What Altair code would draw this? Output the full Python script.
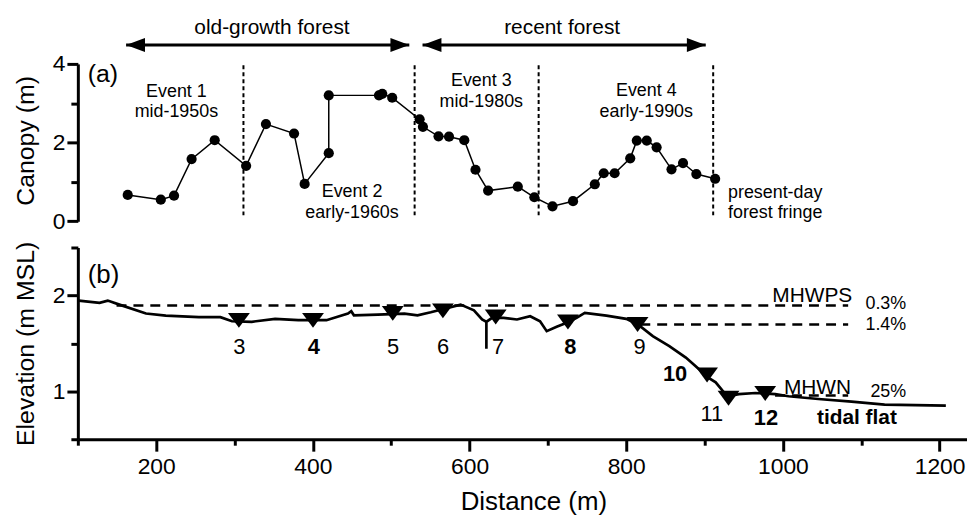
import altair as alt
import pandas as pd

FONT = "Liberation Sans"
XDOM = [100, 1235]
W = 895
H_TOP = 158.4
H_BOT = 193

# ---------------- panel (a): canopy ----------------
canopy_dist = [163.7, 205.9, 222.8, 245.2, 274.7, 314.8, 340.1, 376.0, 389.5, 420.3,
               420.3, 484.4, 488.6, 501.3, 536.3, 540.5, 560.4, 573.8, 593.3, 607.6,
               623.7, 661.6, 682.7, 705.9, 732.1, 759.9, 771.3, 785.2, 805.1, 813.5,
               826.2, 838.8, 857.8, 872.5, 889.5, 913.5]
canopy_height = [0.67, 0.55, 0.65, 1.58, 2.06, 1.41, 2.47, 2.23, 0.95, 1.73,
                 3.20, 3.20, 3.24, 3.14, 2.59, 2.40, 2.16, 2.15, 2.06, 1.31,
                 0.78, 0.88, 0.61, 0.38, 0.51, 0.94, 1.22, 1.22, 1.60, 2.05,
                 2.05, 1.88, 1.32, 1.48, 1.20, 1.08]

event_bounds = [311.4, 529.9, 688.2, 911.0]
event_text = ["Event 1", "mid-1950s", "Event 2", "early-1960s",
              "Event 3", "mid-1980s", "Event 4", "early-1990s"]
event_x = [225.8, 225.8, 450.0, 450.0, 615.0, 615.0, 825.6, 825.6]
event_y = [3.17, 2.65, 0.62, 0.086, 3.45, 2.90, 3.18, 2.65]

fringe_text = ["present-day", "forest fringe"]
fringe_x = [929.9, 929.9]
fringe_y = [0.59, 0.086]

period_text = ["old-growth forest", "recent forest"]
period_x = [347.8, 718.2]
period_y = [4.76, 4.76]
arrow_start = [161.6, 540.0]
arrow_end = [523.1, 901.5]
arrow_y = 4.48

# ---------------- panel (b): elevation ----------------
profile_dist = [101, 127.7, 138.2, 153, 187, 212.3, 254.5, 282, 296.8, 322,
                351.8, 381.4, 417.3, 444.8, 449, 452.4, 482.9, 516.8, 533.6, 550.5,
                588.6, 605.6, 616, 621.5, 621.5, 621.5, 628.8, 643.6, 660.5, 677.4,
                690, 698.5, 711.2, 725.6, 736.6, 747.1, 774.7, 800, 814.5, 833.9,
                855, 876.1, 893, 903.2, 914.2, 924.7, 930.6, 943.8, 965, 990.3,
                1007.2, 1045.2, 1087.6, 1129.8, 1208]
profile_elev = [1.946, 1.922, 1.946, 1.904, 1.811, 1.790, 1.773, 1.773, 1.731, 1.725,
                1.756, 1.742, 1.742, 1.811, 1.835, 1.793, 1.800, 1.811, 1.793, 1.824,
                1.904, 1.845, 1.749, 1.725, 1.445, 1.725, 1.766, 1.766, 1.749, 1.783,
                1.731, 1.627, 1.673, 1.720, 1.766, 1.818, 1.790, 1.756, 1.700, 1.576,
                1.472, 1.352, 1.231, 1.150, 1.093, 0.989, 0.950, 0.971, 0.982, 0.971,
                0.948, 0.920, 0.892, 0.861, 0.850]

tri_dist = [305.6, 400.2, 502.0, 566.0, 633.4, 725.6, 814.5, 903.2, 930.6, 977.4]
tri_elev = [1.740, 1.740, 1.813, 1.839, 1.775, 1.723, 1.697, 1.170, 0.928, 0.977]

lab_text = ["3", "4", "5", "6", "7", "8", "9", "10", "11", "12"]
lab_dist = [306.2, 401.3, 502.3, 566.2, 636.4, 728.6, 816.9, 862.4, 909.3, 978.3]
lab_elev = [1.386, 1.386, 1.386, 1.386, 1.386, 1.386, 1.386, 1.109, 0.695, 0.650]
lab_bold = [False, True, False, False, False, True, False, True, False, True]

level_y = [1.895, 1.697, 0.955]
level_x1 = [149.4, 818.0, 990.0]
level_x2 = [1083.3, 1083.3, 1083.3]

level_name = ["MHWPS", "MHWN"]
level_name_x = [1037.5, 1044.2]
level_name_y = [1.928, 0.971]

pct_text = ["0.3%", "1.4%", "25%"]
pct_x = [1157.4, 1157.4, 1157.4]
pct_y = [1.860, 1.638, 0.937]

# tick values
x_ticks = [100, 200, 300, 400, 500, 600, 700, 800, 900, 1000, 1100, 1200]
top_ticks = [0, 1, 2, 3, 4]
bot_ticks = [0.5, 1, 1.5, 2, 2.5]

# ---------------- encodings ----------------
xscale = alt.Scale(domain=XDOM, nice=False, zero=False)

def x_top():
    return alt.X("x:Q", scale=xscale, axis=None)

x_axis = alt.Axis(
    values=x_ticks, format="d",
    labelExpr="datum.value % 200 == 0 ? datum.label : ''",
    tickSize={"condition": {"test": "datum.value % 200 == 0", "value": 12}, "value": 6},
    tickWidth=3, domainWidth=3, domainColor="black", tickColor="black",
    labelFont=FONT, labelFontSize=23, labelColor="black", labelPadding=4,
    labelFlush=False, labelOverlap=False, grid=False,
    titleFont=FONT, titleFontSize=26, titleFontWeight="normal", titleColor="black",
    titleX=458.5, titleY=71, titleBaseline="alphabetic", titleAlign="center",
)

def x_bot():
    return alt.X("x:Q", scale=xscale, axis=x_axis, title="Distance (m)")

top_axis = alt.Axis(
    values=top_ticks, format="d",
    labelExpr="datum.value % 2 == 0 ? datum.label : ''",
    tickSize={"condition": {"test": "datum.value % 2 == 0", "value": 11}, "value": 7},
    tickWidth=3, domainWidth=3, domainColor="black", tickColor="black",
    labelFont=FONT, labelFontSize=23, labelColor="black", labelPadding=2,
    labelOverlap=False, grid=False,
    titleFont=FONT, titleFontSize=25, titleFontWeight="normal", titleColor="black",
    titleX=-44.9, titleY=77, titleBaseline="alphabetic", titleAlign="center", titleAngle=270,
)

def y_top():
    return alt.Y("y:Q", scale=alt.Scale(domain=[0, 4], nice=False, zero=False),
                 axis=top_axis, title="Canopy (m)")

bot_axis = alt.Axis(
    values=bot_ticks, format=".1f",
    labelExpr="datum.value % 1 == 0 ? format(datum.value, 'd') : ''",
    tickSize={"condition": {"test": "datum.value % 1 == 0", "value": 11}, "value": 7},
    tickWidth=3, domainWidth=3, domainColor="black", tickColor="black",
    labelFont=FONT, labelFontSize=23, labelColor="black", labelPadding=2,
    labelOverlap=False, grid=False,
    titleFont=FONT, titleFontSize=25, titleFontWeight="normal", titleColor="black",
    titleX=-44.9, titleY=96.5, titleBaseline="alphabetic", titleAlign="center", titleAngle=270,
)

def y_bot():
    return alt.Y("y:Q", scale=alt.Scale(domain=[0.5, 2.5], nice=False, zero=False),
                 axis=bot_axis, title="Elevation (m MSL)")

def txt(size, align="center", bold=False):
    return alt.Chart().mark_text(font=FONT, fontSize=size, align=align, baseline="alphabetic",
                                 color="black", fontWeight="bold" if bold else "normal")

# ---------------- top chart ----------------
canopy_df = pd.DataFrame({"x": canopy_dist, "y": canopy_height, "i": list(range(len(canopy_dist)))})

t_line = alt.Chart(canopy_df).mark_line(color="black", strokeWidth=1.5).encode(
    x=x_top(), y=y_top(), order="i:Q")
t_pts = alt.Chart(canopy_df).mark_circle(color="black", size=105, opacity=1).encode(
    x=x_top(), y=y_top())

bounds_df = pd.DataFrame({"x": event_bounds, "y": [0.15] * 4, "y2": [4.0] * 4})
t_bounds = alt.Chart(bounds_df).mark_rule(color="black", strokeWidth=2, strokeDash=[4, 3]).encode(
    x=x_top(), y=y_top(), y2="y2:Q")

arrow_df = pd.DataFrame({"x": arrow_start, "x2": arrow_end, "y": [arrow_y] * 2})
t_arrow = alt.Chart(arrow_df).mark_rule(color="black", strokeWidth=3).encode(
    x=x_top(), x2="x2:Q", y=y_top())
head_l = alt.Chart(pd.DataFrame({"x": arrow_start, "y": [arrow_y] * 2})).mark_point(
    shape="M0,0L2,-0.74L2,0.74Z", filled=True, size=361, color="black", opacity=1, strokeWidth=0
).encode(x=x_top(), y=y_top())
head_r = alt.Chart(pd.DataFrame({"x": arrow_end, "y": [arrow_y] * 2})).mark_point(
    shape="M0,0L-2,-0.74L-2,0.74Z", filled=True, size=361, color="black", opacity=1, strokeWidth=0
).encode(x=x_top(), y=y_top())

period_df = pd.DataFrame({"x": period_x, "y": period_y, "t": period_text})
t_period = txt(21).properties(data=period_df).encode(x=x_top(), y=y_top(), text="t:N")

event_df = pd.DataFrame({"x": event_x, "y": event_y, "t": event_text})
t_event = txt(18).properties(data=event_df).encode(x=x_top(), y=y_top(), text="t:N")

fringe_df = pd.DataFrame({"x": fringe_x, "y": fringe_y, "t": fringe_text})
t_fringe = txt(18, align="left").properties(data=fringe_df).encode(x=x_top(), y=y_top(), text="t:N")

a_df = pd.DataFrame({"x": [112.6], "y": [3.54], "t": ["(a)"]})
t_a = txt(25, align="left").properties(data=a_df).encode(x=x_top(), y=y_top(), text="t:N")

top = alt.layer(t_bounds, t_arrow, head_l, head_r, t_line, t_pts, t_period, t_event,
                t_fringe, t_a).properties(width=W, height=H_TOP)

# ---------------- bottom chart ----------------
profile_df = pd.DataFrame({"x": profile_dist, "y": profile_elev, "i": list(range(len(profile_dist)))})
b_line = alt.Chart(profile_df).mark_line(color="black", strokeWidth=2.7).encode(
    x=x_bot(), y=y_bot(), order="i:Q")

level_df = pd.DataFrame({"x": level_x1, "x2": level_x2, "y": level_y})
b_level = alt.Chart(level_df).mark_rule(color="black", strokeWidth=2.5, strokeDash=[10, 7]).encode(
    x=x_bot(), x2="x2:Q", y=y_bot())

tri_df = pd.DataFrame({"x": tri_dist, "y": tri_elev})
b_tri = alt.Chart(tri_df).mark_point(
    shape="M-1,-0.68L1,-0.68L0,0.68Z", filled=True, size=484, color="black", opacity=1, strokeWidth=0
).encode(x=x_bot(), y=y_bot())

lab_df = pd.DataFrame({"x": lab_dist, "y": lab_elev, "t": lab_text, "b": lab_bold})
b_lab = txt(22).properties(data=lab_df[~lab_df["b"]]).encode(x=x_bot(), y=y_bot(), text="t:N")
b_lab_b = txt(22, bold=True).properties(data=lab_df[lab_df["b"]]).encode(x=x_bot(), y=y_bot(), text="t:N")

tidal_df = pd.DataFrame({"x": [1094.5], "y": [0.661], "t": ["tidal flat"]})
b_tidal = txt(21, bold=True).properties(data=tidal_df).encode(x=x_bot(), y=y_bot(), text="t:N")

name_df = pd.DataFrame({"x": level_name_x, "y": level_name_y, "t": level_name})
b_name = txt(21).properties(data=name_df).encode(x=x_bot(), y=y_bot(), text="t:N")

pct_df = pd.DataFrame({"x": pct_x, "y": pct_y, "t": pct_text})
b_pct = txt(18, align="right").properties(data=pct_df).encode(x=x_bot(), y=y_bot(), text="t:N")

b_df = pd.DataFrame({"x": [112.6], "y": [2.129], "t": ["(b)"]})
b_b = txt(26, align="left").properties(data=b_df).encode(x=x_bot(), y=y_bot(), text="t:N")

bottom = alt.layer(b_level, b_line, b_tri, b_lab, b_lab_b, b_tidal, b_name, b_pct,
                   b_b).properties(width=W, height=H_BOT)

chart = alt.vconcat(top, bottom, spacing=25.8, bounds="flush").properties(
    padding={"left": 5.3, "top": 6.6, "right": 0, "bottom": 0},
    background="white",
).configure_view(stroke=None)

chart.save("out.html", embed_options={"renderer": "svg", "actions": False})
